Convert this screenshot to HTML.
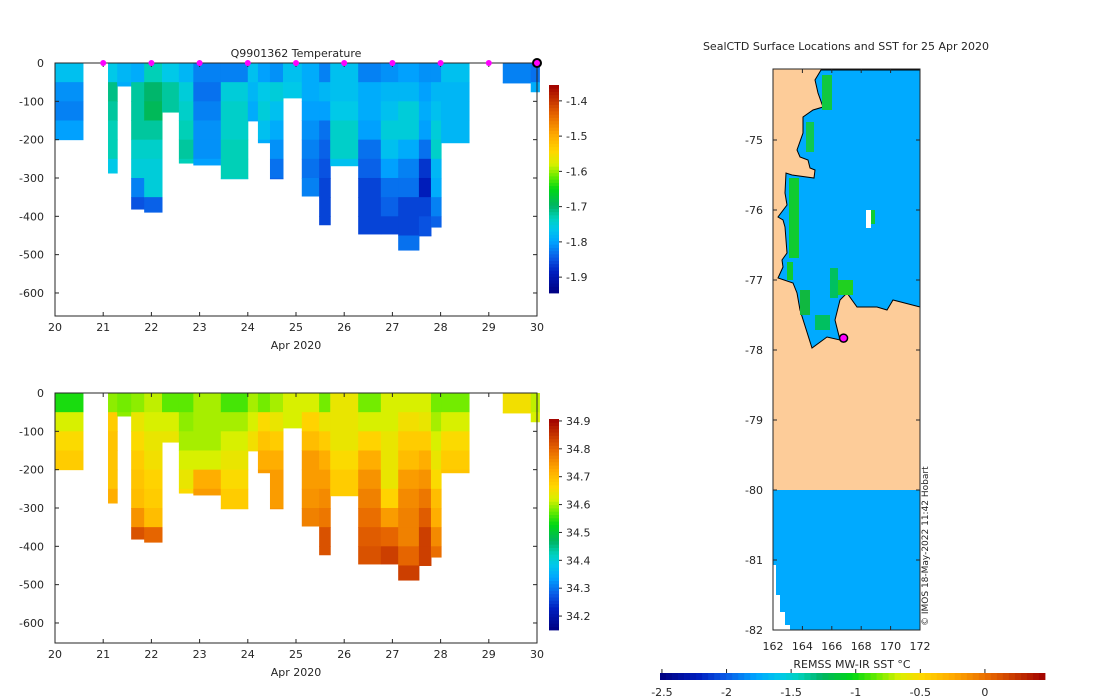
<!DOCTYPE html>
<html><head><meta charset="utf-8">
<style>
body{margin:0;background:#fff;}
svg{display:block;font-family:"DejaVu Sans","Liberation Sans",sans-serif;}
text{font-size:11px;fill:#262626;}
</style></head>
<body>
<svg id="svg" width="1100" height="700" viewBox="0 0 1100 700" xmlns="http://www.w3.org/2000/svg">
<text x="296" y="57" text-anchor="middle">Q9901362  Temperature</text>
<text x="846" y="50" text-anchor="middle">SealCTD Surface Locations and SST for 25 Apr 2020</text>
<g id="g"></g>
</svg>
<script>
// ---- data ----
const dayStart=[20.0,21.10,21.29,21.58,21.85,22.22,22.57,22.87,23.44,24.00,24.21,24.46,24.73,25.12,25.48,25.71,26.29,26.76,27.12,27.55,27.80,28.01,29.29,29.87];
const dayEnd  =[20.58,21.29,21.58,21.85,22.22,22.57,22.87,23.44,24.00,24.21,24.46,24.73,25.12,25.48,25.71,26.29,26.76,27.12,27.55,27.80,28.01,28.59,29.87,30.05];
const maxDepth=[200,287,60,381,389,128,261,266,302,151,208,302,91,347,422,268,446,446,488,451,428,208,52,75];
const tempLayers=[
[-1.77,-1.81,-1.82,-1.80],
[-1.76,-1.71,-1.72,-1.73,-1.73,-1.76],
[-1.78,-1.79],
[-1.79,-1.72,-1.72,-1.72,-1.74,-1.75,-1.82,-1.85],
[-1.73,-1.70,-1.69,-1.72,-1.74,-1.75,-1.75,-1.84],
[-1.76,-1.72,-1.72],
[-1.78,-1.75,-1.74,-1.73,-1.72,-1.73],
[-1.82,-1.83,-1.82,-1.81,-1.81,-1.80],
[-1.82,-1.75,-1.74,-1.74,-1.73,-1.73,-1.74],
[-1.77,-1.78,-1.79,-1.80],
[-1.80,-1.76,-1.75,-1.77,-1.79],
[-1.81,-1.75,-1.77,-1.79,-1.81,-1.83,-1.84],
[-1.77,-1.76],
[-1.79,-1.79,-1.80,-1.81,-1.82,-1.83,-1.82],
[-1.82,-1.78,-1.80,-1.83,-1.84,-1.85,-1.86,-1.86,-1.86],
[-1.77,-1.77,-1.76,-1.74,-1.74,-1.77],
[-1.82,-1.79,-1.79,-1.80,-1.83,-1.84,-1.86,-1.86,-1.86,-1.86],
[-1.81,-1.78,-1.77,-1.75,-1.77,-1.80,-1.83,-1.84,-1.86],
[-1.80,-1.78,-1.75,-1.75,-1.79,-1.82,-1.83,-1.86,-1.86,-1.83],
[-1.81,-1.80,-1.79,-1.80,-1.83,-1.87,-1.89,-1.86,-1.85,-1.85],
[-1.81,-1.78,-1.77,-1.75,-1.74,-1.78,-1.79,-1.82,-1.84],
[-1.77,-1.78,-1.78,-1.78,-1.78],
[-1.82,-1.82],
[-1.83,-1.79]];
const salLayers=[
[34.54,34.62,34.66,34.68],
[34.59,34.68,34.69,34.69,34.69,34.72],
[34.58,34.59],
[34.59,34.64,34.66,34.68,34.69,34.70,34.75,34.82],
[34.61,34.62,34.64,34.65,34.67,34.68,34.70,34.80],
[34.57,34.62,34.64],
[34.57,34.59,34.60,34.62,34.64,34.66],
[34.60,34.60,34.60,34.62,34.72,34.74],
[34.56,34.60,34.62,34.64,34.66,34.68,34.68],
[34.60,34.62,34.65,34.66],
[34.58,34.66,34.69,34.72,34.74],
[34.60,34.64,34.68,34.72,34.74,34.74,34.75],
[34.62,34.62],
[34.62,34.67,34.70,34.74,34.74,34.75,34.77],
[34.58,34.64,34.68,34.72,34.74,34.76,34.78,34.82,34.82],
[34.64,34.64,34.64,34.66,34.68,34.68],
[34.58,34.62,34.67,34.72,34.75,34.77,34.79,34.81,34.82,34.83],
[34.62,34.62,34.64,34.64,34.64,34.67,34.74,34.80,34.84],
[34.62,34.65,34.68,34.70,34.74,34.76,34.77,34.77,34.80,34.84],
[34.62,34.64,34.68,34.72,34.75,34.78,34.81,34.84,34.84],
[34.58,34.60,34.62,34.64,34.66,34.70,34.72,34.76,34.79],
[34.58,34.62,34.66,34.68,34.69],
[34.65,34.65],
[34.61,34.62]];
const surfaceDays=[21,22,23,24,25,26,27,28,29];
const lastDay=30;
const dayTicks=[20,21,22,23,24,25,26,27,28,29,30];
const depthTicks=[0,-100,-200,-300,-400,-500,-600];
const tempTicks=[-1.4,-1.5,-1.6,-1.7,-1.8,-1.9];
const salTicks=[34.9,34.8,34.7,34.6,34.5,34.4,34.3,34.2];
const lonTicks=[162,164,166,168,170,172];
const latTicks=[-75,-76,-77,-78,-79,-80,-81,-82];
const sstTicks=[-2.5,-2,-1.5,-1,-0.5,0];
const glider=[166.8,-77.83];

// ---- helpers ----
const NS="http://www.w3.org/2000/svg";
const G=document.getElementById('g');
function el(tag,attrs,parent){const e=document.createElementNS(NS,tag);for(const k in attrs)e.setAttribute(k,attrs[k]);(parent||G).appendChild(e);return e;}
function txt(x,y,s,anchor,parent){const t=el('text',{x:x,y:y,'text-anchor':anchor||'middle'},parent);t.textContent=s;return t;}
const stops=[[0,[0,0,128]],[0.1,[0,30,190]],[0.17,[10,90,230]],[0.25,[0,165,255]],[0.31,[0,200,235]],[0.36,[0,210,190]],[0.42,[0,180,100]],[0.5,[0,215,20]],[0.56,[100,235,0]],[0.62,[215,240,0]],[0.68,[255,215,0]],[0.76,[255,170,0]],[0.86,[230,100,0]],[1,[160,0,0]]];
function cmap(t){t=Math.max(0,Math.min(1,t));for(let i=1;i<stops.length;i++){if(t<=stops[i][0]){const a=stops[i-1],b=stops[i];const f=(t-a[0])/(b[0]-a[0]);const c=a[1].map((v,j)=>Math.round(v+(b[1][j]-v)*f));return `rgb(${c[0]},${c[1]},${c[2]})`;}}return 'rgb(160,0,0)';}

function panel(y0,yBottom,layers,vmin,vmax,cbTop,cbBot,cbTicks,name,showMarkers){
  const X=d=>55+(d-20)*48.2;
  const Y=z=>y0+(-z)*0.3833;
  const g=el('g',{});
  
  
  for(let i=0;i<dayStart.length;i++){
    const col=el('g',{},g);
    
    
    const L=layers[i];
    for(let k=0;k<L.length;k++){
      const top=k*50,bot=Math.min((k+1)*50,maxDepth[i]);
      if(bot<=top)continue;
      const r=el('rect',{x:X(dayStart[i]),y:Y(-top),width:X(dayEnd[i])-X(dayStart[i])+0.5,height:Y(-bot)-Y(-top)+0.5,fill:cmap((L[k]-vmin)/(vmax-vmin))},col);
      
      
    }
  }
  const frame=el('rect',{x:55,y:y0,width:482,height:yBottom-y0,fill:'none',stroke:'#262626','stroke-width':1},g);
  
  
  dayTicks.forEach(d=>{el('line',{x1:X(d),x2:X(d),y1:yBottom,y2:yBottom-4,stroke:'#262626'},g);el('line',{x1:X(d),x2:X(d),y1:y0,y2:y0+4,stroke:'#262626'},g);
    const t=txt(X(d),yBottom+15,String(d),'middle',g);});
  const xl=txt(296,yBottom+33,'Apr 2020','middle',g);
  
  
  depthTicks.forEach(z=>{el('line',{x1:55,x2:59,y1:Y(z),y2:Y(z),stroke:'#262626'},g);el('line',{x1:537,x2:533,y1:Y(z),y2:Y(z),stroke:'#262626'},g);
    const t=txt(44,Y(z)+4,String(z),'end',g);});
  const cb=el('g',{},g);
  
  
  const n=64;const ch=(cbBot-cbTop)/n;
  for(let i=0;i<n;i++){el('rect',{x:549,y:cbBot-(i+1)*ch,width:10,height:ch+0.4,fill:cmap((i+0.5)/n)},cb);}
  const CY=v=>cbBot-(v-vmin)/(vmax-vmin)*(cbBot-cbTop);
  cbTicks.forEach(v=>{el('line',{x1:559,x2:562,y1:CY(v),y2:CY(v),stroke:'#262626'},cb);const t=txt(566,CY(v)+4,String(v),'start',cb);});
  if(showMarkers){
    surfaceDays.forEach(d=>{const c=el('circle',{cx:X(d),cy:y0,r:3,fill:'#ff00ff'},g);});
    const c=el('circle',{cx:X(lastDay),cy:y0,r:4,fill:'#ff00ff',stroke:'#000','stroke-width':2},g);
    
    
  }
}
panel(63,316,tempLayers,-1.945,-1.355,85,293,tempTicks,'temperature',true);
panel(393,643,salLayers,34.15,34.907,419,630,salTicks,'salinity',false);

// ---- map ----
const MX=lon=>773+(lon-162)*14.7;
const MY=lat=>140+(-75-lat)*70;
const map=el('g',{});


const land=el('rect',{x:773,y:69,width:147,height:421,fill:'#fdcc99'},map);


const south=el('rect',{x:773,y:490,width:147,height:140,fill:'#00aaff'},map);


el('polygon',{points:'773,565 776,565 776,595 780,595 780,612 785,612 785,625 790,625 790,630 773,630',fill:'#fff'},map);
const coast='821,70 815,80 818,93 823,107 813,110 803,117 803,133 797,150 800,157 808,160 810,168 815,170 814,178 792,175 786,173 785,193 787,205 778,217 783,220 785,227 787,253 782,260 783,267 778,278 793,283 797,293 800,310 812,348 827,337 840,340 835,320 840,300 847,293 857,307 877,307 887,310 893,300 920,307 920,70';
const sea=el('polygon',{points:coast,fill:'#00aaff',stroke:'#000','stroke-width':1},map);


[[789,178,10,80,'#10cc30'],[787,262,6,18,'#10cc30'],[800,290,10,25,'#10b840'],[815,315,15,15,'#00c060'],[822,75,10,35,'#10c840'],[806,122,8,30,'#10c850'],[835,280,18,15,'#20d020'],[830,268,8,30,'#00c060'],[866,210,5,18,'#fff'],[871,210,4,14,'#10cc30']].forEach(r=>{const p=el('rect',{x:r[0],y:r[1],width:r[2],height:r[3],fill:r[4]},map);});
el('rect',{x:773,y:69,width:147,height:561,fill:'none',stroke:'#262626'},map);
lonTicks.forEach(l=>{el('line',{x1:MX(l),x2:MX(l),y1:630,y2:626,stroke:'#262626'},map);el('line',{x1:MX(l),x2:MX(l),y1:69,y2:73,stroke:'#262626'},map);const t=txt(MX(l),650,String(l),'middle',map);});
latTicks.forEach(l=>{el('line',{x1:773,x2:777,y1:MY(l),y2:MY(l),stroke:'#262626'},map);el('line',{x1:920,x2:916,y1:MY(l),y2:MY(l),stroke:'#262626'},map);const t=txt(763,MY(l)+4,String(l),'end',map);});
const gm=el('circle',{cx:MX(glider[0]),cy:MY(glider[1]),r:4,fill:'#ff00ff',stroke:'#000','stroke-width':1.5},map);


const cp=txt(0,0,'© IMOS 18-May-2022 11:42 Hobart','start',map);
cp.setAttribute('transform','translate(928,626) rotate(-90)');
cp.setAttribute('style','font-size:9px');


const hb=el('g',{});


const hn=64,hx0=660,hx1=1045,vmn=-2.515,vmx=0.465;
for(let i=0;i<hn;i++){el('rect',{x:hx0+i*(hx1-hx0)/hn,y:673,width:(hx1-hx0)/hn+0.4,height:7,fill:cmap((i+0.5)/hn)},hb);}
const HX=v=>hx0+(v-vmn)/(vmx-vmn)*(hx1-hx0);
sstTicks.forEach(v=>{el('line',{x1:HX(v),x2:HX(v),y1:669,y2:673,stroke:'#262626'},hb);const t=txt(HX(v),696,String(v),'middle',hb);});
const ht=txt(852,668,'REMSS MW-IR SST °C','middle',hb);


</script>
</body></html>
